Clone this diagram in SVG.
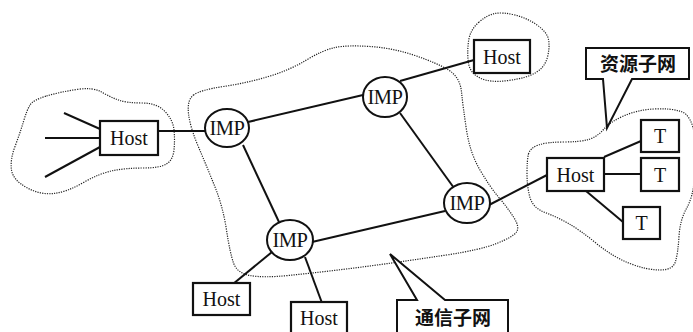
<svg xmlns="http://www.w3.org/2000/svg" width="693" height="332" viewBox="0 0 693 332">
  <style>
    .cloud { fill: none; stroke: #222; stroke-width: 1.2; stroke-dasharray: 1.2 1.2; }
    .link { fill: none; stroke: #111; stroke-width: 2; }
    .box { fill: #fff; stroke: #111; stroke-width: 2.2; }
    .imp { fill: #fff; stroke: #111; stroke-width: 2; }
    .lbl { font-family: "Liberation Serif", "Times New Roman", serif; font-size: 20px; fill: #111; text-anchor: middle; }
    .imptxt { font-family: "Liberation Serif", "Times New Roman", serif; font-size: 20.5px; fill: #111; text-anchor: middle; letter-spacing: -0.5px; }
    .cjk { font-family: "Noto Sans CJK SC", "Noto Sans CJK TC", sans-serif; font-size: 19px; font-weight: bold; fill: #111; text-anchor: middle; }
    .callout { fill: #fff; stroke: #111; stroke-width: 2; stroke-linejoin: miter; }
  </style>

  <!-- dotted subnet outlines -->
  <g id="clouds">
    <path class="cloud" d="M46.5,96 Q60,92 76.5,89.5 Q93,87 101.5,92 Q110,97 118.5,100 Q127,103 142,103 Q157,103 165,111.5 Q173,120 174,130 Q175,140 174,150 Q173,160 166.5,164 Q160,168 143.5,168 Q127,168 113.5,170.5 Q100,173 83.5,182.5 Q67,192 53.5,193.5 Q40,195 26.5,187.5 Q13,180 11.5,170 Q10,160 15,146.5 Q20,133 23.5,121.5 Q27,110 30,105 Q33,100 46.5,96 Z"/>
    <path class="cloud" d="M478.5,22.5 Q487,15 495,13.5 Q503,12 515,15 Q527,18 537,25 Q547,32 548.5,39.5 Q550,47 547.5,57 Q545,67 536,72.5 Q527,78 508.5,80.5 Q490,83 480,78 Q470,73 468.5,63 Q467,53 468.5,41.5 Q470,30 478.5,22.5 Z"/>
    <path class="cloud" d="M193.5,95 Q200,90 223.5,86.5 Q247,83 268.5,76.5 Q290,70 306.5,60 Q323,50 335,47.5 Q347,45 370,46.5 Q393,48 415,55.5 Q437,63 448.5,70 Q460,77 461.5,92 Q463,107 466.5,130 Q470,153 480,170 Q490,187 498.5,197 Q507,207 513.5,217 Q520,227 516.5,232 Q513,237 496.5,243.5 Q480,250 446.5,255 Q413,260 388,263.5 Q363,267 338,270 Q313,273 288,275.5 Q263,278 250,275.5 Q237,273 233.5,263 Q230,253 226.5,230 Q223,207 215,187 Q207,167 198.5,147 Q190,127 188.5,113.5 Q187,100 193.5,95 Z"/>
    <path class="cloud" d="M528.5,154 Q530,148 538.5,145 Q547,142 563.5,142 Q580,142 588.5,139.5 Q597,137 603.5,129.5 Q610,122 623.5,116 Q637,110 653.5,109 Q670,108 681,111.5 Q692,115 695,137.5 Q698,160 694.5,178.5 Q693,197 686.5,208.5 Q680,220 679,236.5 Q678,253 675.5,261.5 Q673,270 660,270 Q647,270 630,263.5 Q613,257 596.5,243.5 Q580,230 568.5,223.5 Q557,217 545,212.5 Q533,208 530,197.5 Q527,187 527,173.5 Q527,160 528.5,154 Z"/>
  </g>

  <!-- connectors -->
  <g id="connectors">
    <line class="link" x1="64" y1="113" x2="100" y2="129"/>
    <line class="link" x1="45" y1="138" x2="100" y2="138"/>
    <line class="link" x1="45" y1="177" x2="100" y2="147"/>
    <line class="link" x1="158" y1="131" x2="206" y2="131"/>
    <line class="link" x1="248" y1="122" x2="363" y2="95"/>
    <line class="link" x1="400" y1="81" x2="474" y2="60"/>
    <line class="link" x1="400" y1="113" x2="454" y2="188"/>
    <line class="link" x1="243" y1="145" x2="279" y2="222"/>
    <line class="link" x1="312" y1="242" x2="445" y2="211"/>
    <line class="link" x1="489" y1="205" x2="547" y2="175"/>
    <line class="link" x1="604" y1="157" x2="641" y2="141"/>
    <line class="link" x1="604" y1="174" x2="641" y2="174"/>
    <line class="link" x1="586" y1="191" x2="623" y2="222"/>
    <line class="link" x1="272" y1="252" x2="233" y2="284"/>
    <line class="link" x1="305" y1="257" x2="322" y2="303"/>
  </g>

  <!-- hosts -->
  <g id="host-left">
    <rect class="box" x="100" y="121" width="58" height="34"/>
    <text class="lbl" x="129" y="145">Host</text>
  </g>
  <g id="host-top">
    <rect class="box" x="474" y="40" width="56" height="33"/>
    <text class="lbl" x="502" y="63.5">Host</text>
  </g>
  <g id="host-right">
    <rect class="box" x="547" y="158" width="57" height="33"/>
    <text class="lbl" x="575.5" y="181.5">Host</text>
  </g>
  <g id="host-bottom-left">
    <rect class="box" x="193" y="283" width="57" height="32"/>
    <text class="lbl" x="221.5" y="306">Host</text>
  </g>
  <g id="host-bottom">
    <rect class="box" x="291" y="302" width="56" height="34"/>
    <text class="lbl" x="319" y="325">Host</text>
  </g>

  <!-- terminals -->
  <g id="t1">
    <rect class="box" x="641" y="120" width="38" height="32"/>
    <text class="lbl" x="660" y="143">T</text>
  </g>
  <g id="t2">
    <rect class="box" x="641" y="158" width="38" height="33"/>
    <text class="lbl" x="660" y="181.5">T</text>
  </g>
  <g id="t3">
    <rect class="box" x="623" y="207" width="37" height="32"/>
    <text class="lbl" x="641.5" y="230">T</text>
  </g>

  <!-- IMPs -->
  <g id="imp-left">
    <ellipse class="imp" cx="227" cy="128" rx="22" ry="19"/>
    <text class="imptxt" x="227" y="135">IMP</text>
  </g>
  <g id="imp-top">
    <ellipse class="imp" cx="385" cy="97" rx="22" ry="20"/>
    <text class="imptxt" x="385" y="104">IMP</text>
  </g>
  <g id="imp-right">
    <ellipse class="imp" cx="467" cy="203" rx="23" ry="20"/>
    <text class="imptxt" x="467" y="210">IMP</text>
  </g>
  <g id="imp-bottom">
    <ellipse class="imp" cx="290" cy="240" rx="23" ry="20"/>
    <text class="imptxt" x="290" y="247">IMP</text>
  </g>

  <!-- callout labels -->
  <g id="label-resource">
    <path class="callout" d="M586,48 H689 V79 H632 L607,128 L603,79 H586 Z"/>
    <text class="cjk" x="638" y="71">资源子网</text>
  </g>
  <g id="label-comm">
    <path class="callout" d="M397,300 H417 L390,254 L445,300 H508 V340 H397 Z"/>
    <text class="cjk" x="453" y="325">通信子网</text>
  </g>
</svg>
